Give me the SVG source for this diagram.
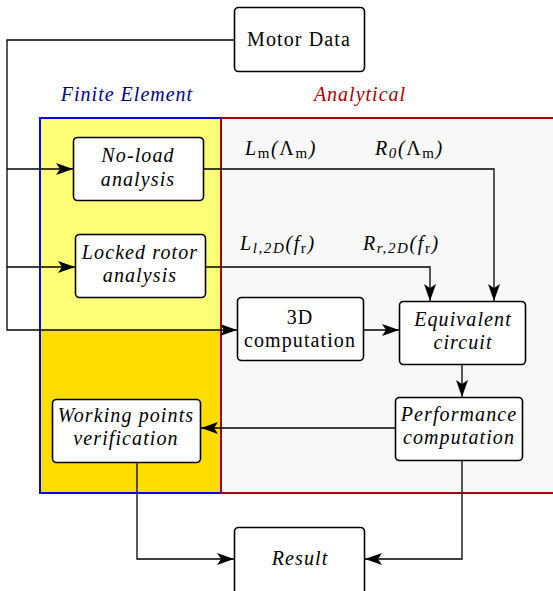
<svg xmlns="http://www.w3.org/2000/svg" width="553" height="591" viewBox="0 0 553 591">
<defs>
<marker id="ah" markerWidth="17" markerHeight="12" refX="17" refY="6" orient="auto" markerUnits="userSpaceOnUse">
<path d="M0,0 L17,6 L0,12 L4,6 Z" fill="#000"/>
</marker>
<style>
.box{fill:#fff;stroke:#000;stroke-width:1.6}
.t{font-family:"Liberation Serif","Times New Roman",serif;font-size:20px;letter-spacing:1.1px;fill:#000;text-anchor:middle}
.i{font-style:italic}
.c{fill:none;stroke:#000;stroke-width:1.3}
.lab{font-family:"Liberation Serif","Times New Roman",serif;font-size:20px;letter-spacing:1.6px;fill:#000}
.it{font-style:italic}
.sub{font-size:15px}
.reg{font-family:"Liberation Serif","Times New Roman",serif;font-size:20px;font-style:italic;letter-spacing:1px;text-anchor:middle}
</style>
</defs>
<rect width="553" height="591" fill="#fff"/>
<g id="regions">
<rect x="221" y="118" width="334" height="375" fill="#f8f8f8" stroke="#aa0000" stroke-width="2"/>
<rect x="40" y="118" width="181" height="213" fill="#ffff77"/>
<rect x="40" y="331" width="181" height="162" fill="#ffdd00"/>
<path d="M221,118 H40 V493 H221" fill="none" stroke="#0000ee" stroke-width="2"/>
<line x1="221" y1="118" x2="221" y2="493" stroke="#aa0000" stroke-width="2"/>
<text class="reg" x="127" y="101" fill="#00008b">Finite Element</text>
<text class="reg" x="360" y="101" fill="#aa0000">Analytical</text>
</g>
<g id="connectors">
<path class="c" d="M234,40 H7 V330 H237" marker-end="url(#ah)"/>
<path class="c" d="M7,169 H73" marker-end="url(#ah)"/>
<path class="c" d="M7,267 H75" marker-end="url(#ah)"/>
<path class="c" d="M204,169 H494 V301" marker-end="url(#ah)"/>
<path class="c" d="M205,267 H430 V301" marker-end="url(#ah)"/>
<path class="c" d="M364,330 H399" marker-end="url(#ah)"/>
<path class="c" d="M462,365 V397" marker-end="url(#ah)"/>
<path class="c" d="M395,428 H201" marker-end="url(#ah)"/>
<path class="c" d="M137,461 V559 H234" marker-end="url(#ah)"/>
<path class="c" d="M462,461 V559 H365" marker-end="url(#ah)"/>
</g>
<g id="labels">
<text class="lab" x="245" y="155"><tspan class="it">L</tspan><tspan class="sub" dy="3">m</tspan><tspan dy="-3" class="it">(</tspan>Λ<tspan class="sub" dy="3">m</tspan><tspan dy="-3" class="it">)</tspan></text>
<text class="lab" x="375" y="155"><tspan class="it">R</tspan><tspan class="sub it" dy="3">0</tspan><tspan dy="-3" class="it">(</tspan>Λ<tspan class="sub" dy="3">m</tspan><tspan dy="-3" class="it">)</tspan></text>
<text class="lab" x="240" y="250"><tspan class="it">L</tspan><tspan class="sub it" dy="3">l,2D</tspan><tspan dy="-3" class="it">(f</tspan><tspan class="sub" dy="3">r</tspan><tspan dy="-3" class="it">)</tspan></text>
<text class="lab" x="363" y="250"><tspan class="it">R</tspan><tspan class="sub it" dy="3">r,2D</tspan><tspan dy="-3" class="it">(f</tspan><tspan class="sub" dy="3">r</tspan><tspan dy="-3" class="it">)</tspan></text>
</g>
<g id="motor-data">
<rect class="box" x="234.5" y="7.5" width="130" height="64" rx="4"/>
<text class="t" x="299" y="46">Motor Data</text>
</g>
<g id="no-load">
<rect class="box" x="73.5" y="137.5" width="130" height="63" rx="4"/>
<text class="t i" x="138" y="162">No-load</text>
<text class="t i" x="138" y="186">analysis</text>
</g>
<g id="locked-rotor">
<rect class="box" x="75.5" y="234.5" width="130" height="63" rx="4"/>
<text class="t i" x="140" y="259">Locked rotor</text>
<text class="t i" x="140" y="282">analysis</text>
</g>
<g id="comp3d">
<rect class="box" x="237.5" y="297.5" width="126" height="63" rx="4"/>
<text class="t" x="300" y="324">3D</text>
<text class="t" x="300" y="347">computation</text>
</g>
<g id="equivalent">
<rect class="box" x="399.5" y="301.5" width="126" height="63" rx="4"/>
<text class="t i" x="463" y="326">Equivalent</text>
<text class="t i" x="463" y="349">circuit</text>
</g>
<g id="performance">
<rect class="box" x="395.5" y="397.5" width="127" height="63" rx="4"/>
<text class="t i" x="459" y="421">Performance</text>
<text class="t i" x="459" y="444">computation</text>
</g>
<g id="working">
<rect class="box" x="52.5" y="399.5" width="148" height="63" rx="4"/>
<text class="t i" x="126" y="422">Working points</text>
<text class="t i" x="126" y="445">verification</text>
</g>
<g id="result">
<rect class="box" x="234.5" y="527.5" width="130" height="68" rx="4"/>
<text class="t i" x="300" y="565">Result</text>
</g>
</svg>
